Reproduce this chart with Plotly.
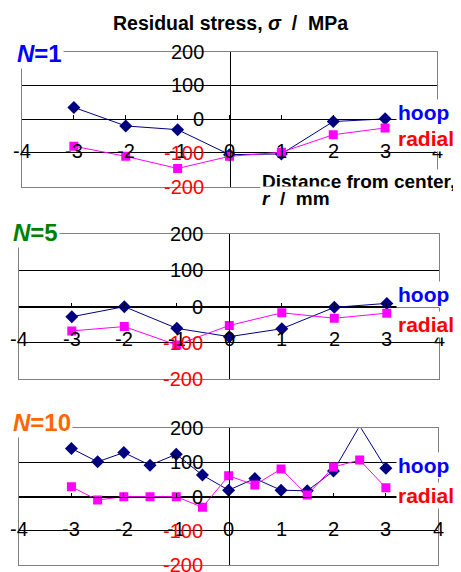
import plotly.graph_objects as go

# The page places the figure 8px from the top-left corner (default body margin),
# so the figure is sized to fill the rest of the 461x572 window.
PAGE_W, PAGE_H = 461, 572
OFF = 8
W, H = PAGE_W - OFF, PAGE_H - OFF
FONT = "Liberation Sans, Arial, sans-serif"

X_RANGE = [-4, 4]
Y_RANGE = [-200, 200]
X_TICKS = [-4, -3, -2, -1, 0, 1, 2, 3, 4]
X_TICK_LABELS = ["-4", "-3", "-2", "-1", "0", "1", "2", "3", "4"]
Y_TICKS = [-200, -100, 0, 100, 200]
Y_TICK_LABELS = ["-200", "-100", "0", "100", "200"]

# N = 1
R1 = [-3, -2, -1, 0, 1, 2, 3]
HOOP1 = [35, -20, -31, -105, -103, -7, 1]
RADIAL1 = [-80, -110, -146, -110, -98, -46, -26]
# N = 5
R5 = [-3, -2, -1, 0, 1, 2, 3]
HOOP5 = [-28, 0, -60, -83, -61, -2, 9]
RADIAL5 = [-67, -55, -106, -52, -17, -32, -18]
# N = 10
R10 = [-3, -2.5, -2, -1.5, -1, -0.5, 0, 0.5, 1, 1.5, 2, 2.5, 3]
HOOP10 = [141, 102, 129, 92, 124, 63, 19, 53, 19, 17, 75, 207, 83]
RADIAL10 = [29, -10, 0, 0, 0, -31, 61, 34, 81, 5, 87, 107, 26]

PANEL_LABELS = ["N=1", "N=5", "N=10"]
PANEL_COLORS = ["#0000FF", "#008000", "#FF6600"]
SERIES_NAMES = ["hoop", "radial"]
SERIES_LABEL_COLORS = ["#0000FF", "#FF0000"]
HOOP_COLOR = "#000080"
RADIAL_COLOR = "#FF00FF"

# panel geometry in page pixels: x-left, x-right, y-top, y-bottom
PANELS_PX = [
    (22, 437, 51.7, 186.7),
    (19.3, 439.3, 234.3, 379),
    (19, 438.3, 428.3, 565),
]
LEGEND_BASE = [(119.3, 146), (302, 331.7), (473, 503)]
LABEL_BASE = [61.7, 241, 431]
LABEL_LEFT = [15, 11, 11]

DATA = [(R1, HOOP1, RADIAL1), (R5, HOOP5, RADIAL5), (R10, HOOP10, RADIAL10)]


def pxx(x):
    return (x - OFF) / W


def pxy(y):
    return 1 - (y - OFF) / H


def mid_from_base(base, f):
    return pxy(base - 0.34 * f)


fig = go.Figure()
layout = dict(
    width=W, height=H, margin=dict(l=0, r=0, t=0, b=0),
    paper_bgcolor="white", plot_bgcolor="white", showlegend=False,
    font=dict(family=FONT, size=20, color="black"),
)
annotations = []

for i, ((x0, x1, yt, yb), (r, hoop, radial)) in enumerate(zip(PANELS_PX, DATA)):
    n = i + 1
    xs = "" if n == 1 else str(n)
    xd = [pxx(x0), pxx(x1)]
    yd = [pxy(yb), pxy(yt)]
    layout["xaxis" + xs] = dict(
        domain=xd, range=X_RANGE, anchor="y" + xs, showgrid=False, zeroline=False,
        showline=True, mirror=True, linecolor="#808080", linewidth=1,
        ticks="", showticklabels=False, fixedrange=True,
    )
    layout["yaxis" + xs] = dict(
        domain=yd, range=Y_RANGE, anchor="x" + xs, tickvals=Y_TICKS, showgrid=True,
        gridcolor="black", gridwidth=1, zeroline=False, showline=True, mirror=True,
        linecolor="#808080", linewidth=1, ticks="", showticklabels=False, fixedrange=True,
    )
    ox = "x" + str(n + 3)
    oy = "y" + str(n + 3)
    fx = (0 - X_RANGE[0]) / (X_RANGE[1] - X_RANGE[0])
    fy = (0 - Y_RANGE[0]) / (Y_RANGE[1] - Y_RANGE[0])
    layout["xaxis" + str(n + 3)] = dict(
        overlaying="x" + xs, anchor="free", position=yd[0] + fy * (yd[1] - yd[0]),
        range=X_RANGE, tickvals=X_TICKS, ticks="inside", ticklen=4, tickcolor="black",
        showticklabels=False, showgrid=False, zeroline=False, showline=True,
        linecolor="black", linewidth=1, fixedrange=True,
    )
    layout["yaxis" + str(n + 3)] = dict(
        overlaying="y" + xs, anchor="free", position=xd[0] + fx * (xd[1] - xd[0]),
        range=Y_RANGE, tickvals=Y_TICKS, ticks="inside", ticklen=6, tickcolor="black",
        showticklabels=False, showgrid=False, zeroline=False, showline=True,
        linecolor="black", linewidth=1, fixedrange=True,
    )
    fig.add_trace(go.Scatter(x=[None], y=[None], xaxis=ox, yaxis="y" + xs,
                             hoverinfo="skip", showlegend=False))
    fig.add_trace(go.Scatter(x=[None], y=[None], xaxis="x" + xs, yaxis=oy,
                             hoverinfo="skip", showlegend=False))

    fig.add_trace(go.Scatter(
        x=r, y=hoop, xaxis="x" + xs, yaxis="y" + xs, mode="lines+markers",
        line=dict(color=HOOP_COLOR, width=1),
        marker=dict(symbol="diamond", color=HOOP_COLOR, opacity=1,
                    size=[10 if Y_RANGE[0] <= v <= Y_RANGE[1] else 0 for v in hoop],
                    line=dict(width=0)),
        name=SERIES_NAMES[0],
    ))
    fig.add_trace(go.Scatter(
        x=r, y=radial, xaxis="x" + xs, yaxis="y" + xs, mode="lines+markers",
        line=dict(color=RADIAL_COLOR, width=1),
        marker=dict(symbol="square", color=RADIAL_COLOR, opacity=1, size=9,
                    line=dict(width=0)),
        name=SERIES_NAMES[1],
    ))

    for t, lab in zip(X_TICKS, X_TICK_LABELS):
        annotations.append(dict(
            x=t, y=0, xref="x" + xs, yref="y" + xs, text=lab, showarrow=False,
            xanchor="center", yanchor="middle", yshift=-32,
            font=dict(family=FONT, size=20, color="black"),
        ))
    for t, lab in zip(Y_TICKS, Y_TICK_LABELS):
        annotations.append(dict(
            x=0, y=t, xref="x" + xs, yref="y" + xs, text=lab, showarrow=False,
            xanchor="right", yanchor="middle", xshift=-24,
            font=dict(family=FONT, size=20, color="#FF0000" if t < 0 else "black"),
        ))

    for name, col, base in zip(SERIES_NAMES, SERIES_LABEL_COLORS, LEGEND_BASE[i]):
        annotations.append(dict(
            x=pxx(396), y=mid_from_base(base, 21), xref="paper", yref="paper",
            text="<b>%s</b>" % name, showarrow=False, xanchor="left", yanchor="middle",
            bgcolor="white", font=dict(family=FONT, size=21, color=col),
        ))
    lbl = PANEL_LABELS[i]
    annotations.append(dict(
        x=pxx(LABEL_LEFT[i]), y=mid_from_base(LABEL_BASE[i], 24), xref="paper", yref="paper",
        text="<b><i>%s</i>%s</b>" % (lbl[0], lbl[1:]), showarrow=False,
        xanchor="left", yanchor="middle", bgcolor="white",
        font=dict(family=FONT, size=24, color=PANEL_COLORS[i]),
    ))

NB = "\u00a0"
annotations.append(dict(
    x=pxx(230), y=mid_from_base(30, 19.5), xref="paper", yref="paper",
    text="<b>Residual stress, <i>σ</i>%s/%sMPa</b>" % (NB * 2, NB * 2), showarrow=False,
    xanchor="center", yanchor="middle", font=dict(family=FONT, size=19.5, color="black"),
))
annotations.append(dict(
    x=pxx(260), y=mid_from_base(188.3, 19), xref="paper", yref="paper",
    text="<b>Distance from center,</b>", showarrow=False, xanchor="left", yanchor="middle",
    bgcolor="white", font=dict(family=FONT, size=19, color="black"),
))
annotations.append(dict(
    x=pxx(260), y=mid_from_base(205, 19), xref="paper", yref="paper",
    text="<b><i>r</i>%s/%smm</b>" % (NB * 2, NB * 2), showarrow=False, xanchor="left",
    yanchor="middle", bgcolor="white", font=dict(family=FONT, size=19, color="black"),
))

layout["annotations"] = annotations
fig.update_layout(**layout)
fig.write_html("out.html")
